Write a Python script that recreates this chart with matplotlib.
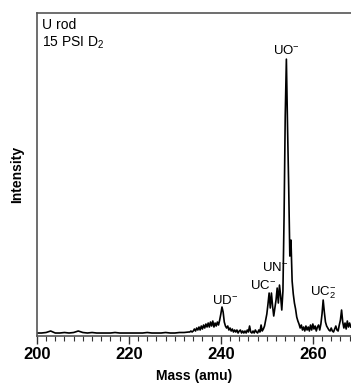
import matplotlib
matplotlib.use('Agg')
import matplotlib.pyplot as plt
from matplotlib.ticker import MultipleLocator

plt.rcParams['font.family'] = ['Liberation Sans', 'DejaVu Sans']
plt.rcParams['mathtext.fontset'] = 'custom'
plt.rcParams['mathtext.rm'] = 'Liberation Sans'
plt.rcParams['mathtext.default'] = 'regular'

# Spectrum (mass in amu, intensity in arbitrary units)
mass = [
    200, 201, 202, 203, 204, 205, 206, 207, 208, 209, 210, 211, 212, 213, 214, 215, 216,
    217, 218, 219, 220, 221, 222, 223, 224, 225, 226, 227, 228, 229, 230, 231, 232, 233,
    233.25, 233.5, 233.75,
    234, 234.25, 234.5, 234.75, 235, 235.25, 235.5, 235.75,
    236, 236.25, 236.5, 236.75, 237, 237.25, 237.5, 237.75,
    238, 238.25, 238.5, 238.75, 239, 239.25, 239.5, 239.75,
    240, 240.25, 240.5, 240.75, 241, 241.25, 241.5, 241.75,
    242, 242.25, 242.5, 242.75, 243, 243.25, 243.5, 243.75,
    244, 244.25, 244.5, 244.75, 245, 245.25, 245.5, 245.75,
    246, 246.25, 246.5, 246.75, 247, 247.25, 247.5, 247.75,
    248, 248.25, 248.5, 248.75, 249, 249.25, 249.5, 249.75,
    250, 250.25, 250.5, 250.75, 251, 251.25, 251.5, 251.75,
    252, 252.25, 252.5, 252.75, 253, 253.25, 253.5, 253.75,
    254, 254.25, 254.5, 254.75, 255, 255.25, 255.5, 255.75,
    256, 256.25, 256.5, 256.75, 257, 257.25, 257.5, 257.75,
    258, 258.25, 258.5, 258.75, 259, 259.25, 259.5, 259.75,
    260, 260.25, 260.5, 260.75, 261, 261.25, 261.5, 261.75,
    262, 262.25, 262.5, 262.75, 263, 263.25, 263.5, 263.75,
    264, 264.25, 264.5, 264.75, 265, 265.25, 265.5, 265.75,
    266, 266.25, 266.5, 266.75, 267, 267.25, 267.5, 267.75,
    268, 268.25,
]
intensity = [
    3, 3, 3.5, 5, 3, 3, 3.5, 3, 3.5, 5, 3.5, 3, 3.5, 3, 3, 3, 3,
    3.5, 3, 3, 3, 3, 3, 3, 3.5, 3, 3, 3, 3.5, 3, 3, 3.5, 3.5, 4,
    4, 5, 4,
    5, 7, 5, 8, 6, 9, 6, 10,
    7, 11, 8, 12, 9, 13, 9, 14,
    10, 15, 9, 13, 10, 14, 11, 16,
    22, 29, 24, 14, 10, 8, 10, 6,
    8, 5, 7, 4, 6, 4, 6, 3,
    5, 6, 3, 5, 3, 5, 3, 6,
    4, 10, 4, 3, 5, 3, 6, 4,
    3, 6, 4, 11, 5, 7, 10, 16,
    22, 32, 43, 28, 43, 30, 20, 28,
    36, 48, 33, 51, 40, 26, 45, 120,
    220, 277, 210, 150, 80, 96, 55, 42,
    33, 27, 19, 15, 12, 8, 11, 6,
    9, 5, 10, 6, 9, 5, 11, 6,
    12, 7, 10, 5, 9, 11, 6, 12,
    22, 36, 24, 14, 10, 8, 6, 5,
    8, 5, 4, 7, 10, 6, 5, 11,
    16, 26, 14, 8, 13, 7, 15, 9,
    13, 9,
]

# Peak labels: (text, mass, intensity)
labels = ['UD$^{-}$', 'UC$^{-}$', 'UN$^{-}$', 'UO$^{-}$', 'UC$_2^{-}$']
label_mass = [240.9, 249.3, 251.9, 254.35, 262.2]
label_int = [36, 51, 69, 286, 43]

fig = plt.figure(figsize=(3.51, 3.88), dpi=100)
ax = fig.add_axes([0.105, 0.134, 0.895, 0.832])

ax.plot(mass, intensity, color='black', lw=1.2)

for txt, m, i in zip(labels, label_mass, label_int):
    ax.text(m, i, txt, ha='center', va='center', fontsize=9.5)

ax.text(0.015, 0.985, 'U rod\n15 PSI D$_2$', transform=ax.transAxes,
        ha='left', va='top', fontsize=10, linespacing=1.2)

ax.set_xlim(200, 268.3)
ax.set_ylim(0, 323)
ax.spines['right'].set_visible(False)
for s in ['left', 'top', 'bottom']:
    ax.spines[s].set_color('#555555')
    ax.spines[s].set_linewidth(1.2)

ax.xaxis.set_major_locator(MultipleLocator(20))
ax.xaxis.set_minor_locator(MultipleLocator(2))
ax.tick_params(axis='x', which='major', length=6, width=1.0, direction='out',
               labelsize=12, pad=2, color='#333333')
ax.tick_params(axis='x', which='minor', length=3.5, width=0.8, direction='out',
               color='#333333')
for lab in ax.get_xticklabels():
    lab.set_fontweight('bold')
ax.set_yticks([])

ax.set_xlabel('Mass (amu)', fontsize=10, fontweight='bold', labelpad=5)
ax.set_ylabel('Intensity', fontsize=10, fontweight='bold', labelpad=9)

fig.savefig('out.png', dpi=100)
